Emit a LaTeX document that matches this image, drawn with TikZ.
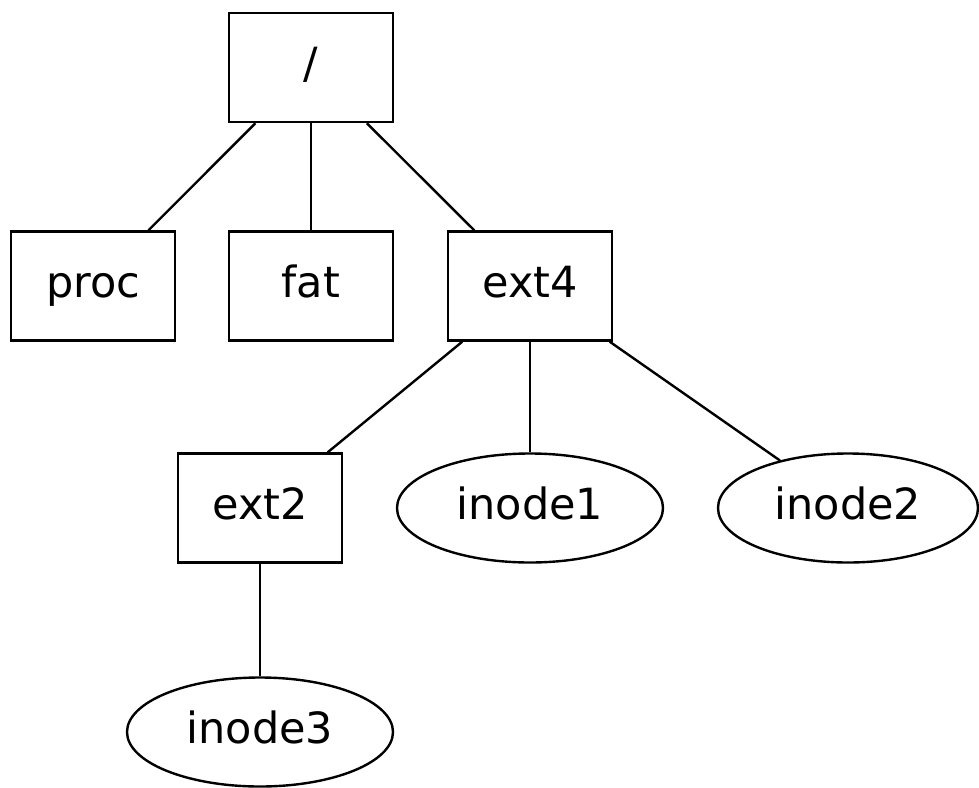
\documentclass[tikz,border=0pt]{standalone}
\usepackage{fontspec}
\setmainfont{DejaVu Sans}
\usetikzlibrary{shapes}

\begin{document}
\begin{tikzpicture}[x=0.5pt, y=-0.5pt, line width=1.2pt,
        dirbox/.style={draw, rectangle, minimum width=82pt, minimum height=54.5pt, inner sep=0pt, text height=15.5pt, text depth=4.5pt, font=\fontsize{21.5}{24}\selectfont},
        inodebox/.style={draw, ellipse, minimum width=133pt, minimum height=54.5pt, inner sep=0pt, text height=15.5pt, text depth=4.5pt, font=\fontsize{21.5}{24}\selectfont}]
        \useasboundingbox (0,0) rectangle (979,787);

        % Directories
        \node[dirbox] (root) at (311,67.5) {/};
        \node[dirbox] (proc) at (93,286) {proc};
        \node[dirbox] (fat) at (311,286) {fat};
        \node[dirbox] (ext4) at (530,286) {ext4};
        \node[dirbox] (ext2) at (260,508) {ext2};

        % Inodes
        \node[inodebox] (inode1) at (530,508) {inode1};
        \node[inodebox, minimum width=130pt] (inode2) at (848,508) {inode2};
        \node[inodebox] (inode3) at (260,732) {inode3};

        % Edges
        \draw (root) -- (proc);
        \draw (root) -- (fat);
        \draw (root) -- (ext4);
        \draw (ext4) -- (ext2);
        \draw (ext4) -- (inode1);
        \draw (ext4) -- (inode2);
        \draw (ext2) -- (inode3);
    \end{tikzpicture}
\end{document}
